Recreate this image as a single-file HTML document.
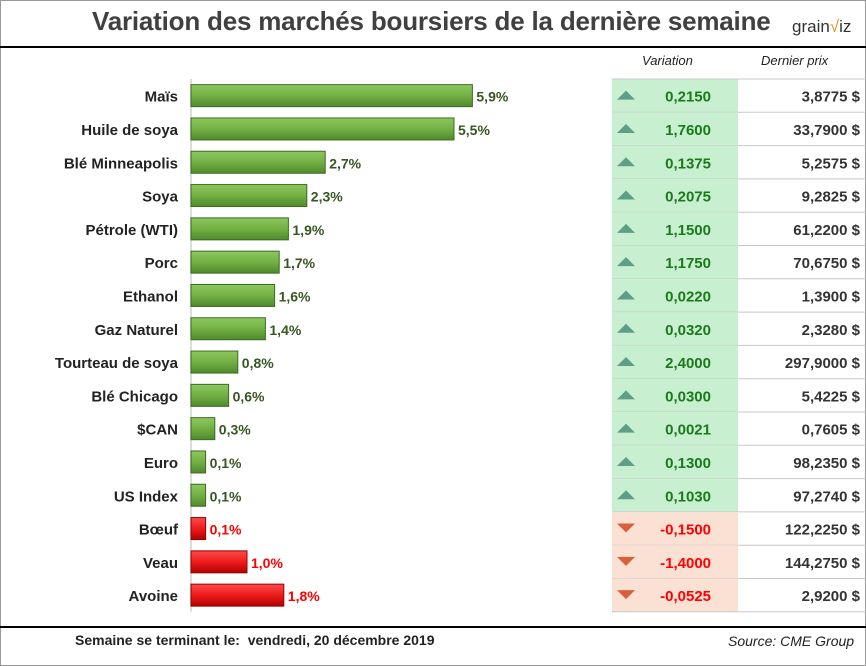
<!DOCTYPE html>
<html><head><meta charset="utf-8">
<style>
body{margin:0;width:866px;height:666px;overflow:hidden;background:#fff;font-family:"Liberation Sans",sans-serif;}
#frame{position:absolute;left:0;top:0;width:864px;height:664px;border:1px solid #999;}
.t{position:absolute;white-space:nowrap;}
</style></head><body>
<div id="frame"></div>
<div class="t" style="left:92px;top:6px;font-size:26px;font-weight:bold;color:#404040;letter-spacing:-0.2px">Variation des marchés boursiers de la dernière semaine</div>
<div class="t" style="left:792px;top:17px;font-size:17px;color:#333">grain<span style="color:#e8891c">√</span>iz</div>
<div style="position:absolute;left:0;top:46px;width:866px;height:2px;background:#000"></div>
<div style="position:absolute;left:0;top:626px;width:866px;height:2px;background:#000"></div>
<div class="t" style="left:75px;top:632px;font-size:14px;font-weight:bold;color:#222">Semaine se terminant le:&nbsp; vendredi, 20 décembre 2019</div>
<div class="t" style="left:728px;top:633px;font-size:14px;font-style:italic;color:#222">Source: CME Group</div>
<div class="t" style="left:642px;top:53px;font-size:13px;font-style:italic;color:#222">Variation</div>
<div class="t" style="left:761px;top:53px;font-size:13px;font-style:italic;color:#222">Dernier prix</div>
<svg id="chart" width="866" height="666" style="position:absolute;left:0;top:0">
<defs>
<linearGradient id="gg" x1="0" y1="0" x2="0" y2="1"><stop offset="0" stop-color="#8cc85e"/><stop offset="0.5" stop-color="#72b044"/><stop offset="1" stop-color="#4f8a2c"/></linearGradient>
<linearGradient id="rg" x1="0" y1="0" x2="0" y2="1"><stop offset="0" stop-color="#ff4a4a"/><stop offset="0.5" stop-color="#ee1c1c"/><stop offset="1" stop-color="#b00000"/></linearGradient>
</defs>
</svg>
<script>
const categories=["Maïs","Huile de soya","Blé Minneapolis","Soya","Pétrole (WTI)","Porc","Ethanol","Gaz Naturel","Tourteau de soya","Blé Chicago","$CAN","Euro","US Index","Bœuf","Veau","Avoine"];
const pctValues=[5.9,5.5,2.7,2.3,1.9,1.7,1.6,1.4,0.8,0.6,0.3,0.1,0.1,-0.1,-1.0,-1.8];
const variations=["0,2150","1,7600","0,1375","0,2075","1,1500","1,1750","0,0220","0,0320","2,4000","0,0300","0,0021","0,1300","0,1030","-0,1500","-1,4000","-0,0525"];
const prices=["3,8775 $","33,7900 $","5,2575 $","9,2825 $","61,2200 $","70,6750 $","1,3900 $","2,3280 $","297,9000 $","5,4225 $","0,7605 $","98,2350 $","97,2740 $","122,2250 $","144,2750 $","2,9200 $"];
const NS="http://www.w3.org/2000/svg";
const svg=document.getElementById('chart');
const x0=191, base=10, scale=46, rowTop=79, rowH=33.3;
const xs=v=>x0+base+Math.abs(v)*scale;
const yc=i=>rowTop+rowH*(i+0.5);
function mk(tag,attrs){const e=document.createElementNS(NS,tag);for(const k in attrs)e.setAttribute(k,attrs[k]);svg.appendChild(e);return e;}
const axis=mk('line',{x1:x0,x2:x0,y1:rowTop,y2:rowTop+rowH*16,stroke:'#ddd','stroke-width':2});


categories.forEach((c,i)=>{
  const neg=pctValues[i]<0;
  const y=rowTop+rowH*i;
  const bg=mk('rect',{x:612,y:y,width:126,height:rowH,fill:neg?'#fbe0d4':'#c9efd1'});
  
  
  const ln=mk('line',{x1:612,x2:866,y1:y+rowH,y2:y+rowH,stroke:'#c8c8c8'});
  
  
});
const topLn=mk('line',{x1:612,x2:866,y1:rowTop,y2:rowTop,stroke:'#c8c8c8'});


categories.forEach((c,i)=>{
  const v=pctValues[i], neg=v<0, y=yc(i), x1=xs(v), col=neg?'#ff0000':'#375623';
  const lab=mk('text',{x:178,y:y+6,'text-anchor':'end','font-size':15,'font-weight':'bold',fill:'#222'});
  lab.textContent=c;
  
  
  const b=mk('rect',{x:x0,y:y-11,width:Math.max(x1-x0,2),height:22,fill:neg?'url(#rg)':'url(#gg)',stroke:neg?'#900':'#3d6b22','stroke-width':1});
  
  
  const vl=mk('text',{x:x1+4,y:y+6,'font-size':14,'font-weight':'bold',fill:col});
  vl.textContent=Math.abs(v).toFixed(1).replace('.',',')+'%';
  
  
  const tri=neg?mk('polygon',{points:`617,${y-5} 635,${y-5} 626,${y+4}`,fill:'#d9603b'}):mk('polygon',{points:`617,${y+4} 635,${y+4} 626,${y-5}`,fill:'#5f9e86'});
  
  
  const vt=mk('text',{x:711,y:y+6,'text-anchor':'end','font-size':15,'font-weight':'bold',fill:neg?'#ff0000':'#1a7a1a'});
  vt.textContent=variations[i];
  
  
  const pt=mk('text',{x:860,y:y+6,'text-anchor':'end','font-size':15,'font-weight':'bold',fill:'#333'});
  pt.textContent=prices[i];
  
  
});
</script>
</body></html>
